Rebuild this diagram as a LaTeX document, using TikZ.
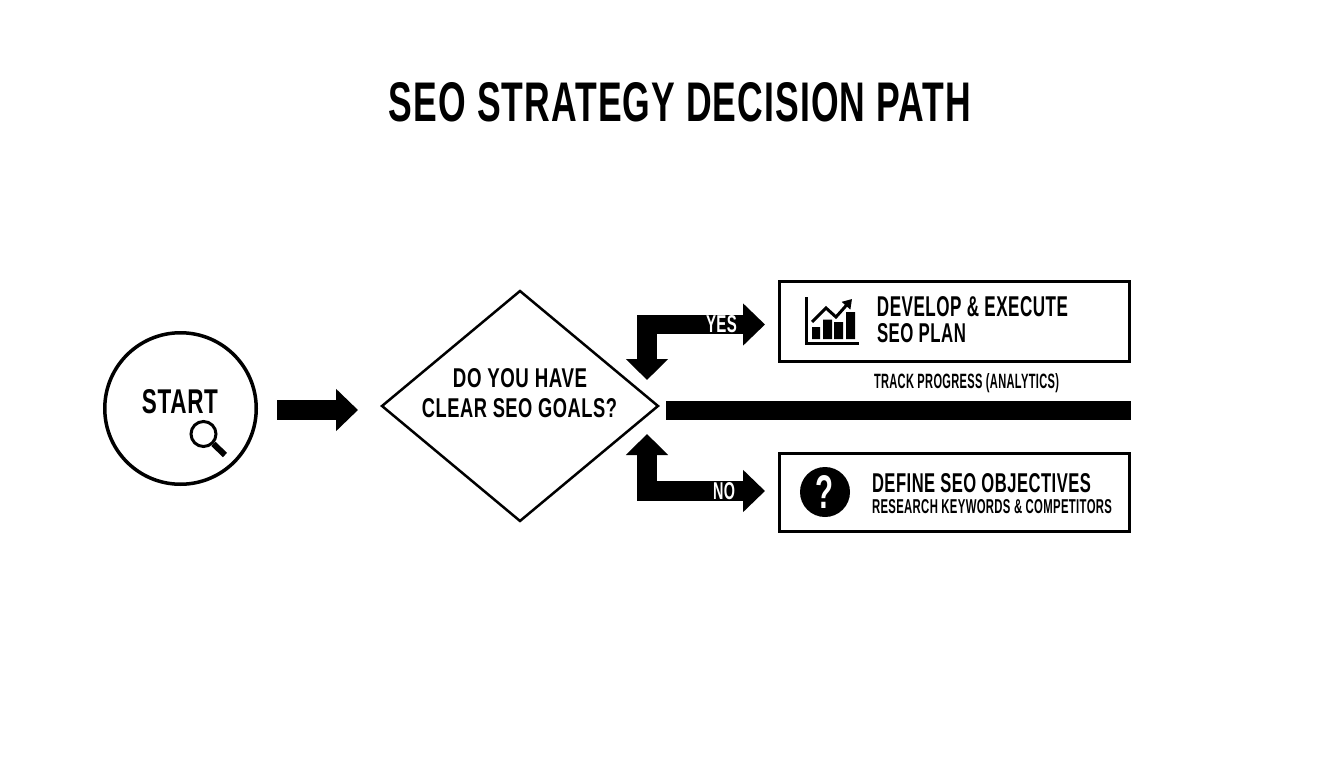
\documentclass[tikz,border=0pt]{standalone}
\usepackage{fontspec}
\usepackage{graphicx}
\setmainfont{Liberation Sans}[LetterSpace=3]
\usetikzlibrary{arrows.meta,shapes.geometric}
\newcommand{\fitbox}[3]{\resizebox{#1pt}{#2pt}{\bfseries #3}}
\tikzset{
  lbl/.style={inner sep=0pt,outer sep=0pt,text=black},
  whitelbl/.style={inner sep=0pt,outer sep=0pt,text=white},
  flowbox/.style={draw=black,line width=3pt,rectangle,inner sep=0pt,fill=white},
  blockarrow/.style={line width=19.5pt,draw=black,line join=miter,
    -{Triangle[length=22pt,width=41pt]}},
  twohead/.style={line width=19.5pt,draw=black,line join=miter,
    {Triangle[length=21pt,width=41pt]}-{Triangle[length=22pt,width=41pt]}},
}
\begin{document}
\begin{tikzpicture}[x=1pt,y=-1pt]
\useasboundingbox (0,0) rectangle (1344,768);
% title
\node[lbl] (title) at (680,102) {\fitbox{582}{39}{SEO STRATEGY DECISION PATH}};
% start
\node[draw=black,line width=3.5pt,circle,minimum size=151.5pt,inner sep=0pt] (start) at (180.5,408.5) {};
\node[lbl] (starttext) at (180,402) {\fitbox{76}{24}{START}};
\node[draw=black,line width=3pt,circle,minimum size=25pt,inner sep=0pt] (lens) at (203.5,434) {};
\coordinate (handleend) at (225,455);
\draw[line width=6pt,black] (lens.south east) -- (handleend);
% diamond
\node[draw=black,line width=2.5pt,diamond,aspect=1.2,minimum width=277pt,minimum height=231pt,inner sep=0pt] (goals) at (520,406) {};
\node[lbl] (goals1) at (520,378.5) {\fitbox{134}{19}{DO YOU HAVE}};
\node[lbl] (goals2) at (519.5,408.5) {\fitbox{195}{19}{CLEAR SEO GOALS?}};
% boxes
\node[flowbox,minimum width=350pt,minimum height=80pt] (plan) at (954.5,321.5) {};
\node[flowbox,minimum width=350pt,minimum height=78pt] (define) at (954.5,492.5) {};
% plan text
\node[lbl] (plan1) at (972.5,307) {\fitbox{191}{20}{DEVELOP \& EXECUTE}};
\node[lbl] (plan2) at (921.5,333.5) {\fitbox{89}{19}{SEO PLAN}};
\node[lbl] (track) at (966.5,383) {\fitbox{185}{15}{TRACK PROGRESS (ANALYTICS)}};
% define text
\node[lbl] (def1) at (981.5,483) {\fitbox{219}{19}{DEFINE SEO OBJECTIVES}};
\node[lbl] (def2) at (992,507) {\fitbox{240}{14}{RESEARCH KEYWORDS \& COMPETITORS}};
% chart icon
\draw[black,line width=3pt,line cap=butt,line join=miter] (806.5,297) -- (806.5,343.5) -- (859,343.5);
\fill[black] (812,327) rectangle (820,339) (823,319.5) rectangle (832,339) (834,322) rectangle (843,339) (846,312) rectangle (855,339);
\draw[black,line width=3pt,line join=miter,-{Triangle[length=9pt,width=11pt]}] (812,322) -- (826,308) -- (836,317) -- (852,299);
% question
\node[circle,fill=black,minimum size=50pt,inner sep=0pt] (qmark) at (825,492) {};
\node[whitelbl] (qtext) at (824.5,491.5) {\textcolor{white}{\fitbox{18}{33}{?}}};
% arrows
\coordinate (startout) at (277,410);
\coordinate (goalsin) at (358,410);
\draw[blockarrow] (startout) -- (goalsin);
\coordinate (goalsyes) at (647,380);
\coordinate (planin) at (765,324.5);
\draw[twohead] (goalsyes) |- (planin);
\coordinate (goalsno) at (647,434);
\coordinate (definein) at (765,491);
\draw[twohead] (goalsno) |- (definein);
\node[whitelbl] (yes) at (721.5,324.5) {\textcolor{white}{\fitbox{31}{17}{YES}}};
\node[whitelbl] (no) at (724,491.5) {\textcolor{white}{\fitbox{22}{17}{NO}}};
% track bar
\fill[black] (666,400.5) rectangle (1131,419.5);
\end{tikzpicture}
\end{document}
